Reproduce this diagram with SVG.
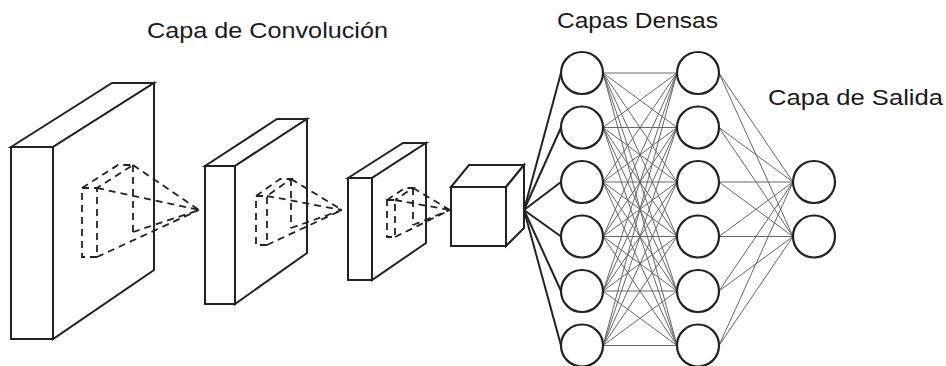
<svg xmlns="http://www.w3.org/2000/svg" width="946" height="366" viewBox="0 0 946 366">
  <style>
    .solid { fill: #ffffff; stroke: #222222; stroke-width: 2; stroke-linejoin: miter; }
    .dash { fill: none; stroke: #222222; stroke-width: 1.8; stroke-dasharray: 7 5; }
    .neuron { fill: #ffffff; stroke: #222222; stroke-width: 2.2; }
    .fan { stroke: #222222; stroke-width: 2; }
    .dense { stroke: #666666; stroke-width: 1; }
    .label { font-family: "Liberation Sans", Arial, sans-serif; font-size: 22.5px; fill: #1a1a1a; }
  </style>
  <rect width="946" height="366" fill="#ffffff"/>

  <!-- titles -->
  <text class="label" x="147" y="37.5" textLength="241" lengthAdjust="spacingAndGlyphs">Capa de Convolución</text>
  <text class="label" x="557" y="28" textLength="161" lengthAdjust="spacingAndGlyphs">Capas Densas</text>
  <text class="label" x="768" y="105" textLength="175" lengthAdjust="spacingAndGlyphs">Capa de Salida</text>

  <!-- convolution slab 1 -->
  <g id="conv1">
    <polygon class="solid" points="11,147 112,83 154,83 53,147"/>
    <polygon class="solid" points="53,147 154,83 154,270 53,339"/>
    <rect class="solid" x="11" y="147" width="42" height="192"/>
    <g class="dash">
      <path d="M82,188 L97,188 L97,257 L82,257 Z"/>
      <path d="M82,188 L118,165 L133,165 L97,188"/>
      <path d="M133,165 L133,232"/>
      <path d="M97,188 L199,210 M133,165 L199,210 M133,232 L199,210 M97,257 L199,210"/>
    </g>
  </g>

  <!-- convolution slab 2 -->
  <g id="conv2">
    <polygon class="solid" points="205,166 277,119 307,119 235,166"/>
    <polygon class="solid" points="235,166 307,119 307,253 235,304"/>
    <rect class="solid" x="205" y="166" width="30" height="138"/>
    <g class="dash">
      <path d="M256,196 L267,196 L267,245 L256,245 Z"/>
      <path d="M256,196 L280,179 L291,179 L267,196"/>
      <path d="M291,179 L291,228"/>
      <path d="M267,196 L342,210 M291,179 L342,210 M291,228 L342,210 M267,245 L342,210"/>
    </g>
  </g>

  <!-- convolution slab 3 -->
  <g id="conv3">
    <polygon class="solid" points="348,178 403,143 426,143 372,178"/>
    <polygon class="solid" points="372,178 426,143 426,243 372,280"/>
    <rect class="solid" x="348" y="178" width="24" height="102"/>
    <g class="dash">
      <path d="M387,200 L395,200 L395,237 L387,237 Z"/>
      <path d="M387,200 L405,188 L413,188 L395,200"/>
      <path d="M413,188 L413,225"/>
      <path d="M395,200 L450,210 M413,188 L450,210 M413,225 L450,210 M395,237 L450,210"/>
    </g>
  </g>

  <!-- flattened feature cube -->
  <g id="flatten">
    <polygon class="solid" points="451,187 469,165 524,165 506,187"/>
    <polygon class="solid" points="506,187 524,165 524,228 506,246"/>
    <rect class="solid" x="451" y="187" width="55" height="59"/>
  </g>

  <!-- connections -->
  <g id="connectors">
    <g class="fan">
      <line x1="524" y1="210" x2="561" y2="73"/>
      <line x1="524" y1="210" x2="561" y2="127.5"/>
      <line x1="524" y1="210" x2="561" y2="182"/>
      <line x1="524" y1="210" x2="561" y2="236.5"/>
      <line x1="524" y1="210" x2="561" y2="291"/>
      <line x1="524" y1="210" x2="561" y2="345.5"/>
    </g>
    <g class="dense">
      <!-- dense layer 1 to dense layer 2 -->
      <path d="M603,73 L677,73 M603,73 L677,127.5 M603,73 L677,182 M603,73 L677,236.5 M603,73 L677,291 M603,73 L677,345.5"/>
      <path d="M603,127.5 L677,73 M603,127.5 L677,127.5 M603,127.5 L677,182 M603,127.5 L677,236.5 M603,127.5 L677,291 M603,127.5 L677,345.5"/>
      <path d="M603,182 L677,73 M603,182 L677,127.5 M603,182 L677,182 M603,182 L677,236.5 M603,182 L677,291 M603,182 L677,345.5"/>
      <path d="M603,236.5 L677,73 M603,236.5 L677,127.5 M603,236.5 L677,182 M603,236.5 L677,236.5 M603,236.5 L677,291 M603,236.5 L677,345.5"/>
      <path d="M603,291 L677,73 M603,291 L677,127.5 M603,291 L677,182 M603,291 L677,236.5 M603,291 L677,291 M603,291 L677,345.5"/>
      <path d="M603,345.5 L677,73 M603,345.5 L677,127.5 M603,345.5 L677,182 M603,345.5 L677,236.5 M603,345.5 L677,291 M603,345.5 L677,345.5"/>
      <!-- dense layer 2 to output -->
      <path d="M719,73 L793,182 M719,127.5 L793,182 M719,182 L793,182 M719,236.5 L793,182 M719,291 L793,182 M719,345.5 L793,182"/>
      <path d="M719,73 L793,236.5 M719,127.5 L793,236.5 M719,182 L793,236.5 M719,236.5 L793,236.5 M719,291 L793,236.5 M719,345.5 L793,236.5"/>
    </g>
  </g>

  <!-- dense layer 1 -->
  <g id="dense1">
    <circle id="d1n1" class="neuron" cx="582" cy="73" r="21"/>
    <circle id="d1n2" class="neuron" cx="582" cy="127.5" r="21"/>
    <circle id="d1n3" class="neuron" cx="582" cy="182" r="21"/>
    <circle id="d1n4" class="neuron" cx="582" cy="236.5" r="21"/>
    <circle id="d1n5" class="neuron" cx="582" cy="291" r="21"/>
    <circle id="d1n6" class="neuron" cx="582" cy="345.5" r="21"/>
  </g>

  <!-- dense layer 2 -->
  <g id="dense2">
    <circle id="d2n1" class="neuron" cx="698" cy="73" r="21"/>
    <circle id="d2n2" class="neuron" cx="698" cy="127.5" r="21"/>
    <circle id="d2n3" class="neuron" cx="698" cy="182" r="21"/>
    <circle id="d2n4" class="neuron" cx="698" cy="236.5" r="21"/>
    <circle id="d2n5" class="neuron" cx="698" cy="291" r="21"/>
    <circle id="d2n6" class="neuron" cx="698" cy="345.5" r="21"/>
  </g>

  <!-- output layer -->
  <g id="output">
    <circle id="out1" class="neuron" cx="814" cy="182" r="21"/>
    <circle id="out2" class="neuron" cx="814" cy="236.5" r="21"/>
  </g>
</svg>
